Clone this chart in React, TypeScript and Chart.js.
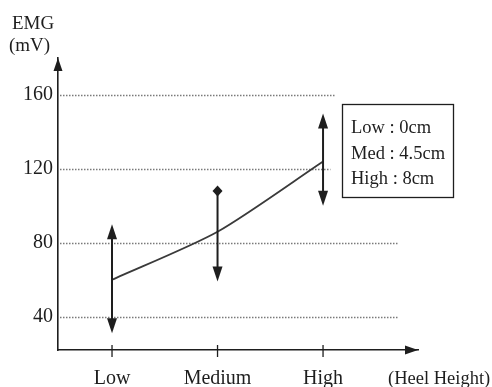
import React, { useEffect, useRef } from 'react';
import { Chart, registerables } from 'chart.js';

Chart.register(...registerables);

const categories = ['Low', 'Medium', 'High'];
const categoryX = [1, 2, 3];
const meanEMG = [60, 86, 124];
const upperEMG = [90, 108, 150];
const lowerEMG = [31, 59, 100];
const upperMarker = ['arrow', 'diamond', 'arrow'];
const yTicks = [40, 80, 120, 160];
const gridEnds = [3.71, 3.71, 3.07, 3.12];
const legendLines = ['Low : 0cm', 'Med : 4.5cm', 'High : 8cm'];
const yTitle = ['EMG', '(mV)'];
const xTitle = '(Heel Height)';

const SERIF = "'Liberation Serif', 'Times New Roman', serif";
const INK = '#1e1e1e';

function tri(ctx: CanvasRenderingContext2D, x: number, y: number, dir: 'up' | 'down' | 'right', w: number, h: number) {
  ctx.beginPath();
  if (dir === 'up') {
    ctx.moveTo(x, y);
    ctx.lineTo(x - w / 2, y + h);
    ctx.lineTo(x + w / 2, y + h);
  } else if (dir === 'down') {
    ctx.moveTo(x, y);
    ctx.lineTo(x - w / 2, y - h);
    ctx.lineTo(x + w / 2, y - h);
  } else {
    ctx.moveTo(x, y);
    ctx.lineTo(x - h, y - w / 2);
    ctx.lineTo(x - h, y + w / 2);
  }
  ctx.closePath();
  ctx.fill();
}

const decorPlugin = {
  id: 'decor',
  beforeDatasetsDraw(chart: any) {
    const { ctx, scales } = chart;
    const xs = scales.x;
    const ys = scales.y;
    ctx.save();
    ctx.strokeStyle = '#7a7a7a';
    ctx.lineWidth = 1.3;
    ctx.setLineDash([1.5, 1.5]);
    yTicks.forEach((v, i) => {
      const y = Math.round(ys.getPixelForValue(v)) + 0.5;
      ctx.beginPath();
      ctx.moveTo(xs.left + 2, y);
      ctx.lineTo(xs.getPixelForValue(gridEnds[i]), y);
      ctx.stroke();
    });
    ctx.restore();
  },
  afterDraw(chart: any) {
    const { ctx, scales, chartArea } = chart;
    const xs = scales.x;
    const ys = scales.y;
    ctx.save();
    ctx.fillStyle = INK;
    ctx.strokeStyle = INK;
    // axis arrows
    tri(ctx, chartArea.left, chartArea.top, 'up', 9, 13);
    tri(ctx, chartArea.right, chartArea.bottom, 'right', 9, 13);
    // x tick marks
    ctx.lineWidth = 1.3;
    categoryX.forEach((c) => {
      const x = xs.getPixelForValue(c);
      ctx.beginPath();
      ctx.moveTo(x, chartArea.bottom - 5);
      ctx.lineTo(x, chartArea.bottom + 7);
      ctx.stroke();
    });
    // error bars
    ctx.lineWidth = 2;
    categoryX.forEach((c, i) => {
      const x = xs.getPixelForValue(c);
      const yt = ys.getPixelForValue(upperEMG[i]);
      const yb = ys.getPixelForValue(lowerEMG[i]);
      ctx.beginPath();
      ctx.moveTo(x, yt + (upperMarker[i] === 'arrow' ? 8 : 0));
      ctx.lineTo(x, yb - 8);
      ctx.stroke();
      if (upperMarker[i] === 'arrow') {
        tri(ctx, x, yt, 'up', 10, 15);
      } else {
        ctx.beginPath();
        ctx.moveTo(x, yt - 5.5);
        ctx.lineTo(x + 5, yt);
        ctx.lineTo(x, yt + 5.5);
        ctx.lineTo(x - 5, yt);
        ctx.closePath();
        ctx.fill();
      }
      tri(ctx, x, yb, 'down', 10, 15);
    });
    // y title
    ctx.font = `19px ${SERIF}`;
    ctx.textAlign = 'left';
    ctx.textBaseline = 'alphabetic';
    ctx.fillText(yTitle[0], 12, 29);
    ctx.fillText(yTitle[1], 9, 51);
    // x title
    ctx.font = `18.5px ${SERIF}`;
    ctx.fillText(xTitle, 388, 384);
    // legend box
    ctx.lineWidth = 1.3;
    ctx.strokeRect(342.5, 104.5, 111, 93);
    ctx.font = `18.5px ${SERIF}`;
    legendLines.forEach((t, i) => {
      ctx.fillText(t, 351, 133 + i * 25.5);
    });
    ctx.restore();
  },
};

export default function App() {
  const ref = useRef<HTMLCanvasElement | null>(null);
  useEffect(() => {
    if (!ref.current) return;
    const chart = new Chart(ref.current, {
      type: 'line',
      data: {
        datasets: [
          {
            data: categoryX.map((x, i) => ({ x, y: meanEMG[i] })),
            borderColor: '#3a3a3a',
            borderWidth: 1.8,
            pointRadius: 0,
            tension: 0.25,
            fill: false,
          },
        ],
      },
      options: {
        animation: false,
        responsive: false,
        maintainAspectRatio: false,
        layout: { padding: { left: 0, right: 74, top: 58, bottom: 0 } },
        plugins: { legend: { display: false }, tooltip: { enabled: false }, title: { display: false } },
        scales: {
          x: {
            type: 'linear',
            min: 0.488,
            max: 3.9,
            grid: { display: false, drawTicks: false },
            border: { display: true, color: INK, width: 1.6 },
            afterBuildTicks: (s: any) => {
              s.ticks = categoryX.map((v) => ({ value: v }));
            },
            afterFit: (s: any) => {
              s.height = 37;
            },
            ticks: {
              autoSkip: false,
              maxRotation: 0,
              padding: 17,
              color: INK,
              font: { family: SERIF, size: 20 },
              callback: (v: any) => {
                const idx = categoryX.indexOf(Number(v));
                return idx >= 0 ? categories[idx] : '';
              },
            },
          },
          y: {
            type: 'linear',
            min: 22,
            max: 180,
            grid: { display: false, drawTicks: false },
            border: { display: true, color: INK, width: 1.6 },
            afterBuildTicks: (s: any) => {
              s.ticks = yTicks.map((v) => ({ value: v }));
            },
            afterFit: (s: any) => {
              s.width = 58;
            },
            ticks: {
              padding: 5,
              color: INK,
              font: { family: SERIF, size: 20 },
            },
          },
        },
      },
      plugins: [decorPlugin],
    });
    return () => chart.destroy();
  }, []);
  return (
    <div style={{ position: 'fixed', left: 0, top: 0, width: 492, height: 387, background: '#fff' }}>
      <canvas ref={ref} width={492} height={387} style={{ width: 492, height: 387, display: 'block' }} />
    </div>
  );
}
